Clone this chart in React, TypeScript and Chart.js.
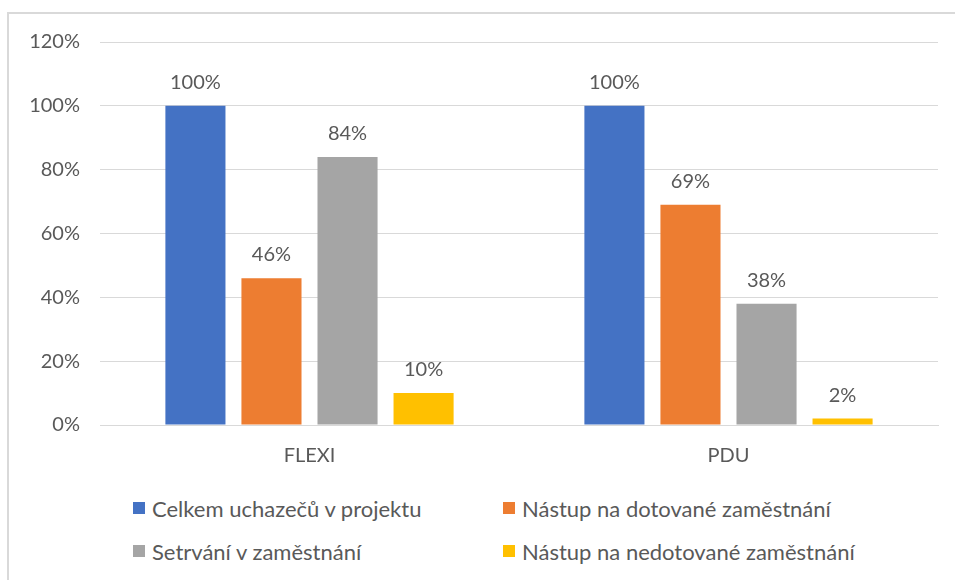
import React, { useEffect, useRef } from "react";
import { Chart, registerables } from "chart.js";

Chart.register(...registerables);

const categories = ["FLEXI", "PDU"];
const seriesNames = [
  "Celkem uchazečů v projektu",
  "Nástup na dotované zaměstnání",
  "Setrvání v zaměstnání",
  "Nástup na nedotované zaměstnání",
];
const celkem = [100, 100];
const dotovane = [46, 69];
const setrvani = [84, 38];
const nedotovane = [10, 2];
const colors = ["#4472C4", "#ED7D31", "#A5A5A5", "#FFC000"];
const yTicks = [0, 20, 40, 60, 80, 100, 120];

const FONT = "Lato, 'Open Sans', sans-serif";
const TEXT = "#595959";

const labelPlugin = {
  id: "valueLabels",
  afterDatasetsDraw(chart: any) {
    const ctx = chart.ctx;
    ctx.save();
    ctx.font = `20px ${FONT}`;
    ctx.fillStyle = TEXT;
    ctx.textAlign = "center";
    ctx.textBaseline = "alphabetic";
    chart.data.datasets.forEach((ds: any, i: number) => {
      const meta = chart.getDatasetMeta(i);
      meta.data.forEach((bar: any, j: number) => {
        ctx.fillText(`${ds.data[j]}%`, bar.x, bar.y - 17);
      });
    });
    ctx.restore();
  },
};

export default function App() {
  const ref = useRef<HTMLCanvasElement>(null);
  useEffect(() => {
    if (!ref.current) return;
    const data = [celkem, dotovane, setrvani, nedotovane];
    const chart = new Chart(ref.current, {
      type: "bar",
      data: {
        labels: categories,
        datasets: seriesNames.map((name, i) => ({
          label: name,
          data: data[i],
          backgroundColor: colors[i],
          barPercentage: 0.79,
          categoryPercentage: 0.726,
        })),
      },
      options: {
        animation: false,
        responsive: false,
        maintainAspectRatio: false,
        layout: { padding: { left: 0, right: 17, top: 42, bottom: 0 } },
        plugins: {
          legend: { display: false },
          tooltip: { enabled: false },
        },
        scales: {
          x: {
            grid: { display: false, drawTicks: false },
            border: { display: true, color: "#d9d9d9", width: 1 },
            ticks: { color: TEXT, font: { family: FONT, size: 20 }, padding: 19 },
            afterFit: (s: any) => {
              s.height = 55;
            },
          },
          y: {
            min: 0,
            max: 120,
            afterBuildTicks: (s: any) => {
              s.ticks = yTicks.map((v) => ({ value: v }));
            },
            grid: { color: "#d9d9d9", drawTicks: false, lineWidth: 1 },
            border: { display: false },
            ticks: {
              color: TEXT,
              font: { family: FONT, size: 20 },
              padding: 20,
              callback: (v: any) => `${v}%`,
            },
            afterFit: (s: any) => {
              s.width = 100;
            },
          },
        },
      },
      plugins: [labelPlugin],
    });
    return () => chart.destroy();
  }, []);

  const legendPos = [
    { x: 133, y: 508 },
    { x: 503, y: 508 },
    { x: 133, y: 551 },
    { x: 503, y: 551 },
  ];

  return (
    <div
      style={{
        position: "fixed",
        left: 0,
        top: 0,
        width: 955,
        height: 580,
        background: "#fff",
        overflow: "hidden",
        fontFamily: FONT,
      }}
    >
      <div
        style={{
          position: "absolute",
          left: 7,
          top: 12,
          width: 1000,
          height: 700,
          borderLeft: "2px solid #d9d9d9",
          borderTop: "2px solid #d9d9d9",
        }}
      />
      <canvas
        ref={ref}
        width={955}
        height={480}
        style={{ position: "absolute", left: 0, top: 0, width: 955, height: 480 }}
      />
      {seriesNames.map((name, i) => (
        <div
          key={name}
          style={{
            position: "absolute",
            left: legendPos[i].x,
            top: legendPos[i].y - 14,
            height: 28,
            display: "flex",
            alignItems: "center",
            whiteSpace: "nowrap",
            color: TEXT,
            fontSize: 22,
          }}
        >
          <span
            style={{
              display: "inline-block",
              width: 12,
              height: 12,
              background: colors[i],
              marginRight: 7,
            }}
          />
          <span>{name}</span>
        </div>
      ))}
    </div>
  );
}
